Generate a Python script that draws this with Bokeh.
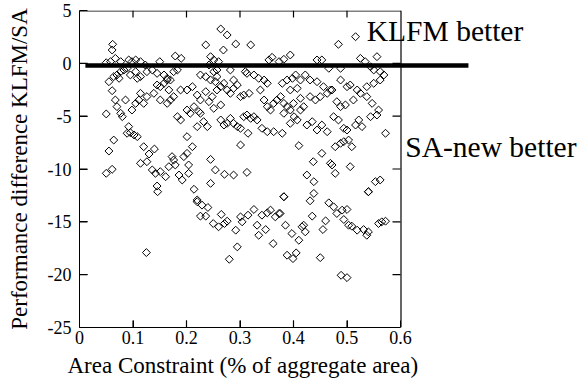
import numpy as np
from bokeh.plotting import figure
from bokeh.models import FixedTicker, Label, Arrow, Range1d, ColumnDataSource, Title
from bokeh.embed import file_html
from bokeh.resources import INLINE

# ---- tick values and labels ----
x_ticks = [0, 0.1, 0.2, 0.3, 0.4, 0.5, 0.6]
x_tick_labels = ["0", "0.1", "0.2", "0.3", "0.4", "0.5", "0.6"]
y_ticks = [-25, -20, -15, -10, -5, 0, 5]
y_tick_labels = ["-25", "-20", "-15", "-10", "-5", "0", "5"]
x_axis_bounds = (0, 0.6)
y_axis_bounds = (-25, 5)

# reference line (KLFM/SA parity)
parity_x = [0.011, 0.727]
parity_y = -0.2

# ---- data: (area constraint, performance difference) ----
near_zero_left = [(0.062, 1.8), (0.061, 1.26), (0.050, 0.06), (0.058, 0.16), (0.067, 0.47), (0.077, 0.16),
                  (0.092, 0.32), (0.098, 0.16), (0.105, 0.32), (0.114, 0.16), (0.123, -0.16), (0.150, 0.16),
                  (0.179, 0.69), (0.190, 0.47), (0.055, -1.74), (0.061, -2.59), (0.064, -1.26), (0.070, -1.10),
                  (0.074, -1.42), (0.077, -0.79), (0.083, -0.63), (0.089, -0.47), (0.095, -1.10), (0.105, -0.79),
                  (0.108, -1.42), (0.114, -1.26), (0.126, -0.79), (0.136, -0.63), (0.145, -0.95), (0.158, -1.10),
                  (0.164, -1.42), (0.170, -1.58), (0.176, -0.79), (0.183, -0.63)]

mid_left = [(0.050, -4.79), (0.067, -3.47), (0.070, -4.10), (0.077, -4.73), (0.080, -5.05), (0.086, -3.47),
            (0.098, -4.42), (0.105, -3.79), (0.111, -3.47), (0.114, -2.84), (0.126, -3.15), (0.120, -3.79),
            (0.139, -2.84), (0.145, -2.05), (0.151, -2.21), (0.158, -1.89), (0.164, -1.58), (0.167, -2.52),
            (0.170, -3.47), (0.151, -3.47), (0.164, -3.79), (0.176, -3.15), (0.189, -2.52), (0.092, -5.99),
            (0.095, -6.56), (0.089, -6.62), (0.102, -6.78), (0.108, -6.94), (0.064, -7.26)]

low_left = [(0.055, -8.30), (0.050, -10.41), (0.061, -10.03), (0.120, -7.89), (0.130, -8.58), (0.114, -9.46),
            (0.126, -9.31), (0.136, -10.09), (0.140, -8.11), (0.142, -10.41), (0.151, -10.25), (0.161, -10.73),
            (0.167, -9.78), (0.173, -8.83), (0.176, -9.15), (0.179, -9.62), (0.186, -10.57), (0.192, -11.04),
            (0.195, -8.83), (0.201, -8.52), (0.204, -9.62), (0.204, -10.41), (0.211, -7.89), (0.145, -11.61),
            (0.146, -12.15), (0.214, -11.92), (0.220, -12.93), (0.245, -9.09), (0.245, -11.36), (0.254, -10.09),
            (0.271, -10.50), (0.288, -10.57), (0.313, -10.32), (0.125, -17.91)]

mid_center = [(0.201, -6.94), (0.183, -5.05), (0.189, -5.36), (0.201, -4.42), (0.207, -4.73), (0.214, -4.10),
              (0.223, -4.57), (0.226, -4.73), (0.232, -5.52), (0.239, -5.99), (0.220, -5.99), (0.201, -2.52),
              (0.211, -2.21), (0.220, -3.00), (0.226, -3.47), (0.236, -2.68), (0.242, -3.63), (0.248, -3.15),
              (0.251, -4.26), (0.257, -2.52), (0.264, -3.94), (0.226, -1.10), (0.236, -1.26), (0.245, -1.58),
              (0.254, -1.74), (0.264, -2.21), (0.270, -1.89), (0.276, -2.52), (0.282, -2.84), (0.288, -2.37),
              (0.295, -2.05), (0.301, -3.15), (0.307, -3.00), (0.317, -2.84), (0.264, -5.36), (0.270, -5.84),
              (0.276, -5.68), (0.282, -5.21), (0.288, -5.68), (0.295, -5.99), (0.301, -6.15), (0.307, -5.05),
              (0.313, -4.89), (0.320, -5.21), (0.326, -5.05), (0.332, -5.36), (0.341, -6.15), (0.351, -6.47),
              (0.363, -6.47), (0.315, -6.62), (0.301, -7.73)]

top_center = [(0.257, -1.26), (0.251, 0.32), (0.260, 0.16), (0.245, 0.63), (0.236, 1.74), (0.269, 1.26),
              (0.264, 3.25), (0.276, 2.68), (0.292, 1.83), (0.320, 1.74), (0.242, -0.16), (0.251, -0.79),
              (0.257, -0.63), (0.282, -0.63), (0.288, -1.58), (0.310, -0.79), (0.313, -0.95), (0.326, -1.10),
              (0.335, -1.42), (0.345, -1.58), (0.351, -1.89), (0.338, -2.52), (0.345, -3.47), (0.351, -4.10),
              (0.357, -4.42), (0.363, -3.79), (0.369, -3.47), (0.376, -3.15), (0.382, -3.79), (0.388, -4.10),
              (0.394, -4.42), (0.401, -5.05), (0.354, 0.32), (0.360, 0.57), (0.373, 0.16), (0.382, 0.38),
              (0.394, 0.79), (0.379, -1.89), (0.388, -1.58), (0.398, -1.42), (0.404, -1.10), (0.394, -2.52),
              (0.407, -2.37), (0.382, -4.73), (0.379, -6.62), (0.410, -7.79), (0.382, -12.62)]

right_band = [(0.516, 2.52), (0.484, 1.80), (0.444, 0.32), (0.453, 0.32), (0.466, -0.47), (0.488, -0.47),
              (0.525, 0.47), (0.534, 0.16), (0.556, 0.63), (0.544, -0.32), (0.550, -0.63), (0.562, -0.79),
              (0.569, -1.10), (0.413, -1.58), (0.422, -1.10), (0.431, -1.58), (0.444, -1.74), (0.456, -2.21),
              (0.469, -2.52), (0.488, -1.58), (0.500, -2.21), (0.506, -2.05), (0.519, -2.52), (0.537, -2.21),
              (0.550, -1.89), (0.562, -1.58), (0.400, -3.79), (0.413, -3.31), (0.419, -4.10), (0.431, -3.15),
              (0.441, -3.47), (0.450, -3.15), (0.463, -2.84), (0.472, -2.52), (0.481, -3.63), (0.488, -4.10),
              (0.497, -3.94), (0.512, -3.47), (0.525, -2.84), (0.537, -3.15), (0.547, -3.79), (0.559, -4.42),
              (0.394, -5.68), (0.407, -5.36), (0.413, -4.42), (0.425, -5.84), (0.435, -5.52), (0.444, -6.31),
              (0.453, -5.84), (0.463, -6.47), (0.475, -5.05), (0.484, -5.36), (0.494, -6.15), (0.500, -6.31),
              (0.516, -5.84), (0.522, -5.36), (0.528, -5.99), (0.544, -5.05), (0.556, -4.89), (0.572, -6.62)]

right_low = [(0.453, -8.52), (0.478, -7.89), (0.488, -7.57), (0.494, -7.41), (0.503, -7.26), (0.509, -7.89),
             (0.437, -9.31), (0.469, -9.46), (0.472, -9.62), (0.506, -9.78), (0.425, -10.57), (0.438, -11.20),
             (0.478, -10.41), (0.540, -12.15), (0.553, -11.20), (0.562, -11.04)]

low_center = [(0.220, -13.10), (0.229, -13.42), (0.240, -13.64), (0.226, -14.46), (0.236, -14.46),
              (0.250, -15.16), (0.260, -15.47), (0.265, -14.30), (0.271, -15.16), (0.276, -14.94),
              (0.292, -15.79), (0.295, -17.37), (0.280, -18.54), (0.301, -14.53), (0.304, -15.0),
              (0.315, -14.37), (0.326, -13.83), (0.332, -15.32), (0.335, -16.27), (0.341, -14.37),
              (0.348, -15.73), (0.351, -14.15), (0.357, -13.89), (0.362, -17.06), (0.366, -14.53), (0.373, -14.21)]

low_right = [(0.382, -12.63), (0.375, -14.21), (0.385, -15.32), (0.397, -16.11), (0.410, -16.74),
             (0.388, -18.16), (0.399, -18.48), (0.405, -17.94), (0.431, -13.01), (0.438, -12.31),
             (0.435, -14.46), (0.416, -15.47), (0.422, -15.95), (0.419, -15.32), (0.455, -15.73),
             (0.460, -14.91), (0.450, -18.39), (0.466, -13.20), (0.475, -13.58), (0.481, -14.21),
             (0.491, -13.89), (0.500, -13.83), (0.494, -14.78), (0.503, -15.32), (0.509, -15.41),
             (0.519, -15.79), (0.531, -15.73), (0.537, -16.27), (0.540, -15.95), (0.540, -12.15),
             (0.559, -15.16), (0.565, -15.0), (0.572, -14.94), (0.489, -20.06), (0.500, -20.28)]

groups = [near_zero_left, mid_left, low_left, mid_center, top_center,
          right_band, right_low, low_center, low_right]
area = [pt[0] for g in groups for pt in g]
diff = [pt[1] for g in groups for pt in g]

SERIF = "Liberation Serif"

# The frame spans the full width so that the annotations at the right are not clipped;
# the visible box is drawn by bounded axes plus dash markers for its top/right edges and ticks.
W, H = 588, 390
LEFT, TOP, BOTTOM = 79, 10, 63
BOX_W = 321  # pixel width of the 0..0.6 box
BOX_H = H - TOP - BOTTOM
x_end = x_axis_bounds[1] * (W - LEFT) / BOX_W
px_per_x = BOX_W / (x_axis_bounds[1] - x_axis_bounds[0])
px_per_y = BOX_H / (y_axis_bounds[1] - y_axis_bounds[0])
TICK_X, TICK_Y = 7, 8  # tick lengths (px) of x ticks and y ticks

p = figure(width=W, height=H, output_backend="svg", toolbar_location=None,
           x_range=Range1d(0, x_end), y_range=Range1d(*y_axis_bounds),
           min_border_left=LEFT, min_border_right=0, min_border_top=TOP, min_border_bottom=BOTTOM,
           background_fill_color="white", border_fill_color="white")
p.xgrid.visible = False
p.ygrid.visible = False
p.outline_line_color = None

src = ColumnDataSource(dict(x=area, y=diff))
p.scatter("x", "y", source=src, marker="square", angle=np.pi / 4, size=5.6,
          fill_color=None, line_color="black", line_width=1)

x0, x1 = x_axis_bounds
y0, y1 = y_axis_bounds
half_x = 0.5 / px_per_x
half_y = 0.5 / px_per_y

# box edges and ticks as dash markers (same scatter renderer type as the data points)
mx, my, msize, mangle = [], [], [], []
# top edge (horizontal) and right edge (vertical)
mx.append((x0 + x1) / 2); my.append(y1 - half_y); msize.append(BOX_W + 1); mangle.append(0.0)
mx.append(x1 + half_x); my.append((y0 + y1) / 2); msize.append(BOX_H); mangle.append(np.pi / 2)
for t in x_ticks[1:-1]:
    # top ticks and bottom ticks (vertical dashes)
    mx += [t, t]
    my += [y1 - (TICK_X / 2) / px_per_y, y0 + (TICK_X / 2) / px_per_y]
    msize += [TICK_X, TICK_X]
    mangle += [np.pi / 2, np.pi / 2]
for t in y_ticks[1:-1]:
    # right ticks and left ticks (horizontal dashes)
    mx += [x1 - (TICK_Y / 2) / px_per_x, x0 + (TICK_Y / 2) / px_per_x]
    my += [t, t]
    msize += [TICK_Y, TICK_Y]
    mangle += [0.0, 0.0]
frame_src = ColumnDataSource(dict(x=mx, y=my, s=msize, a=mangle))
p.scatter("x", "y", source=frame_src, marker="dash", size="s", angle="a",
          line_color="black", line_width=1.2, fill_color=None)

p.add_layout(Arrow(end=None, x_start=parity_x[0], x_end=parity_x[1],
                   y_start=parity_y, y_end=parity_y, line_width=4.5, line_color="black"))

p.add_layout(Label(x=0.537, y=3.02, text="KLFM better", text_font=SERIF, text_font_size="29.5px",
                   text_align="left", text_baseline="middle", text_color="black"))
p.add_layout(Label(x=0.609, y=-7.94, text="SA-new better", text_font=SERIF, text_font_size="29.5px",
                   text_align="left", text_baseline="middle", text_color="black"))


def style_axis(ax, ticks, labels, tick_len):
    ax.ticker = FixedTicker(ticks=ticks)
    ax.major_label_overrides = {t: l for t, l in zip(ticks, labels)}
    ax.major_tick_in = tick_len
    ax.major_tick_out = 0
    ax.minor_tick_in = 0
    ax.minor_tick_out = 0
    ax.axis_line_color = "black"
    ax.axis_line_width = 1
    ax.major_tick_line_color = "black"
    ax.major_tick_line_width = 1
    ax.major_label_text_font = SERIF
    ax.major_label_text_font_size = "18px"
    ax.major_label_text_color = "black"
    ax.axis_label_text_font = SERIF
    ax.axis_label_text_font_style = "normal"
    ax.axis_label_text_font_size = "23px"
    ax.axis_label_text_color = "black"


xa = p.xaxis[0]
style_axis(xa, x_ticks, x_tick_labels, TICK_X)
xa.bounds = x_axis_bounds
xa.major_label_standoff = 3

ya = p.yaxis[0]
style_axis(ya, y_ticks, y_tick_labels, TICK_Y)
ya.bounds = y_axis_bounds
ya.axis_label = "Performance difference KLFM/SA"
ya.major_label_standoff = 8
ya.axis_label_standoff = 13

# x-axis title, centred under the 0..0.6 box rather than under the wide frame
x_title = Title(text="Area Constraint (% of aggregate area)", align="left", offset=-12,
                text_font=SERIF, text_font_size="23px", text_font_style="normal",
                text_color="black", standoff=8)
p.add_layout(x_title, "below")

open("out.html", "w").write(file_html(p, INLINE))
